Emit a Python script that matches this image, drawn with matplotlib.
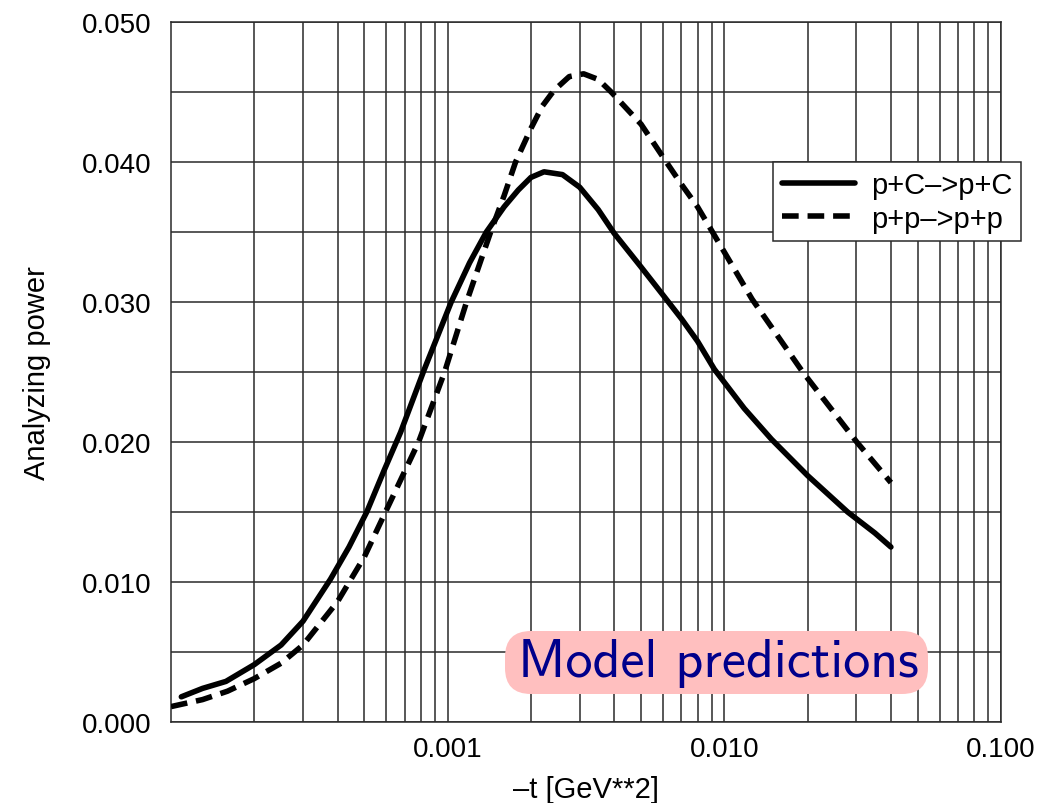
import matplotlib
matplotlib.use("Agg")
import matplotlib.pyplot as plt
from matplotlib.ticker import FixedLocator, FixedFormatter, LogLocator, NullFormatter, MultipleLocator, FormatStrFormatter
from matplotlib.patches import FancyBboxPatch
from matplotlib.transforms import IdentityTransform

# p+C -> p+C (solid)
t_pc = [1.09e-4, 1.3e-4, 1.58e-4, 2e-4, 2.5e-4, 3e-4, 3.77e-4, 4.4e-4, 5.1e-4, 5.9e-4,
        6.76e-4, 8.2e-4, 1.03e-3, 1.2e-3, 1.38e-3, 1.6e-3, 1.8e-3, 2.0e-3, 2.23e-3, 2.6e-3,
        3e-3, 3.5e-3, 4e-3, 5e-3, 6e-3, 7e-3, 8e-3, 9.2e-3, 0.0118, 0.0148,
        0.02, 0.0279, 0.035, 0.04]
ap_pc = [0.0018, 0.0024, 0.0029, 0.0041, 0.0055, 0.0072, 0.0102, 0.0125, 0.0150, 0.0180,
         0.0207, 0.0251, 0.0300, 0.0328, 0.0350, 0.0368, 0.0380, 0.0389, 0.0393, 0.0391,
         0.0382, 0.0366, 0.0349, 0.0325, 0.0305, 0.0288, 0.0272, 0.0252, 0.0224, 0.0202,
         0.0176, 0.0150, 0.0135, 0.0125]

# p+p -> p+p (dashed)
t_pp = [1e-4, 1.3e-4, 1.6e-4, 2e-4, 2.5e-4, 3e-4, 4e-4, 5e-4, 5.96e-4, 7.85e-4,
        9.75e-4, 1.17e-3, 1.43e-3, 1.6e-3, 1.76e-3, 2e-3, 2.2e-3, 2.42e-3, 2.75e-3, 3.1e-3,
        3.5e-3, 3.9e-3, 5e-3, 6.17e-3, 7e-3, 8e-3, 9.06e-3, 0.0126, 0.0192, 0.0301, 0.04]
ap_pp = [0.0011, 0.0016, 0.0022, 0.0031, 0.0042, 0.0055, 0.0086, 0.0118, 0.0150, 0.0200,
         0.0250, 0.0300, 0.0350, 0.0376, 0.0400, 0.0424, 0.0440, 0.0451, 0.0461, 0.0463,
         0.0459, 0.0450, 0.0427, 0.0400, 0.0384, 0.0368, 0.0350, 0.0302, 0.0250, 0.0200, 0.0171]

xticks = [1e-3, 1e-2, 1e-1]
xticklabels = ["0.001", "0.010", "0.100"]

plt.rcParams['font.family'] = ['Liberation Sans', 'DejaVu Sans']

W, H = 1049, 804
fig = plt.figure(figsize=(W / 100, H / 100), dpi=100)
ax = fig.add_axes([171 / W, 1 - 723 / H, (1001 - 171) / W, (723 - 23) / H])

gc = '#2a2a2a'
ax.plot(t_pc, ap_pc, color='black', lw=4.0, solid_capstyle='round', solid_joinstyle='round',
        label='p+C\u2013>p+C', zorder=3)
ax.plot(t_pp, ap_pp, color='black', lw=4.0, linestyle=(0, (3.0, 1.6)), dash_joinstyle='round',
        label='p+p\u2013>p+p', zorder=3)

ax.set_xscale('log')
ax.set_xlim(1e-4, 1e-1)
ax.set_ylim(0, 0.05)

ax.xaxis.set_major_locator(FixedLocator(xticks))
ax.xaxis.set_major_formatter(FixedFormatter(xticklabels))
ax.xaxis.set_minor_locator(LogLocator(base=10, subs=range(2, 10), numticks=20))
ax.xaxis.set_minor_formatter(NullFormatter())
ax.yaxis.set_major_locator(MultipleLocator(0.01))
ax.yaxis.set_minor_locator(MultipleLocator(0.005))
ax.yaxis.set_major_formatter(FormatStrFormatter('%.3f'))

ax.grid(which='both', color=gc, lw=1.1)
ax.set_axisbelow(True)
for s in ax.spines.values():
    s.set_color(gc)
    s.set_linewidth(1.1)

ax.tick_params(axis='both', which='both', length=0, labelsize=20)
ax.tick_params(axis='y', pad=14)
ax.tick_params(axis='x', pad=10)

ax.set_xlabel('\u2013t [GeV**2]', fontsize=21, va='center')
ax.xaxis.set_label_coords(0.5, (723 - 790) / 700)
ax.set_ylabel('Analyzing power', fontsize=21, va='center')
ax.yaxis.set_label_coords((37 - 171) / 830, 0.5)

leg = fig.legend(loc='upper left', bbox_to_anchor=(773 / W, 1 - 163 / H), borderaxespad=0,
                 fontsize=21, handlelength=2.5, handletextpad=0.55, borderpad=0.3,
                 labelspacing=0.2, fancybox=False, framealpha=1)
leg.get_frame().set_edgecolor(gc)
leg.get_frame().set_linewidth(1.1)

# "Model predictions" tag
box = FancyBboxPatch((505, H - 695), 423, 63, boxstyle="round,pad=0,rounding_size=26",
                     transform=IdentityTransform(), facecolor='#ffbfbf', edgecolor='none', zorder=5)
fig.add_artist(box)
fig.text(718 / W, 1 - 677 / H, 'Model predictions', fontsize=39, family='cmss10',
         color='#00008b', ha='center', va='baseline', zorder=6)

fig.savefig('out.png', dpi=100)
